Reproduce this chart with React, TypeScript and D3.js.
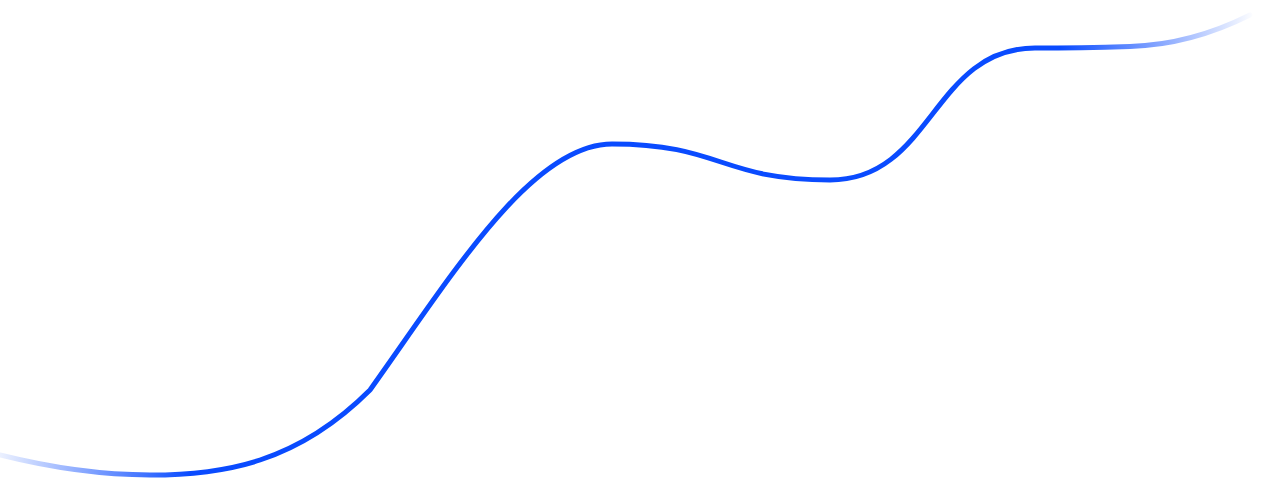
import React from "react";
import * as d3 from "d3";

const W = 1277;
const H = 480;

// Key points of the curve (x in data units, value in data units)
const xValues = [0, 150, 370, 612, 830, 1035, 1130, 1250];
const yValues = [25, 5, 90, 336, 300, 432, 433.5, 465];
// Curve slopes (value per x unit), entering / leaving each point
const slopeIn = [-0.25, 0, 1.0, 0, 0, 0, 0.03, 0.5];
const slopeOut = [-0.25, 0, 1.4, 0, 0, 0, 0.03, 0.5];
// Handle length of each segment as a share of its width
const handleRatio = [1 / 3, 1 / 3, 1 / 3, 0.5, 0.5, 1 / 3, 1 / 3];

export default function App() {
  const x = d3.scaleLinear().domain([0, W]).range([0, W]);
  const y = d3.scaleLinear().domain([0, H]).range([H, 0]);

  const p = d3.path();
  p.moveTo(x(xValues[0]), y(yValues[0]));
  for (let i = 0; i < xValues.length - 1; i++) {
    const x0 = xValues[i];
    const x1 = xValues[i + 1];
    const y0 = yValues[i];
    const y1 = yValues[i + 1];
    const h = (x1 - x0) * handleRatio[i];
    p.bezierCurveTo(
      x(x0 + h),
      y(y0 + h * slopeOut[i]),
      x(x1 - h),
      y(y1 - h * slopeIn[i + 1]),
      x(x1),
      y(y1)
    );
  }

  return (
    <svg
      width={W}
      height={H}
      style={{ position: "absolute", left: 0, top: 0, display: "block" }}
    >
      <defs>
        <linearGradient id="lg" gradientUnits="userSpaceOnUse" x1={0} x2={W} y1={0} y2={0}>
          <stop offset={0} stopColor="#0a4bff" stopOpacity={0.08} />
          <stop offset={190 / W} stopColor="#0a4bff" stopOpacity={1} />
          <stop offset={1060 / W} stopColor="#0a4bff" stopOpacity={1} />
          <stop offset={1255 / W} stopColor="#0a4bff" stopOpacity={0} />
        </linearGradient>
      </defs>
      <path d={p.toString()} fill="none" stroke="url(#lg)" strokeWidth={5} strokeLinecap="round" />
    </svg>
  );
}
